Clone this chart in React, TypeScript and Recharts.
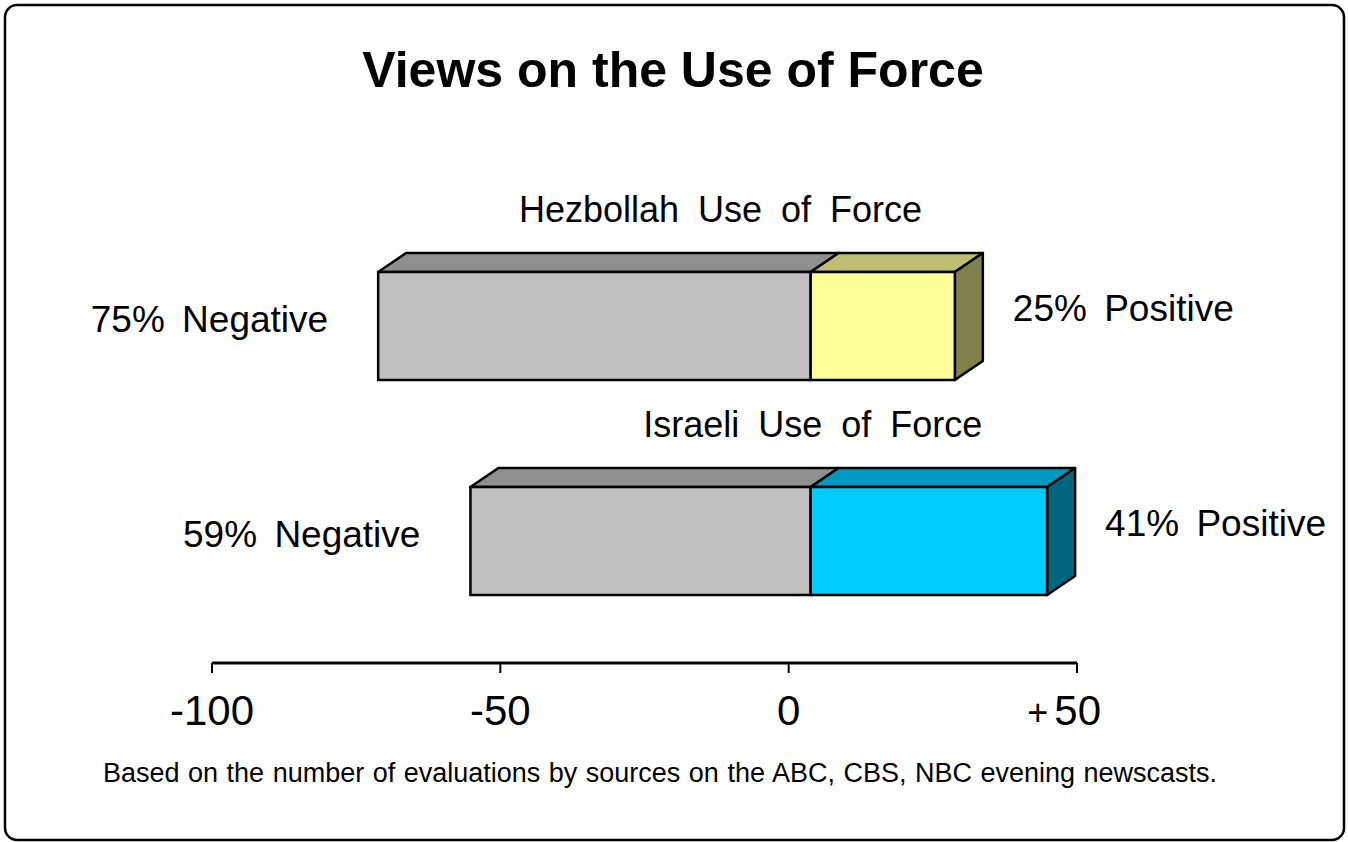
import React from 'react';
import { BarChart, Bar, XAxis, YAxis } from 'recharts';

const categories = ['Hezbollah Use of Force', 'Israeli Use of Force'];
const negativeShares = [-75, -59];
const positiveShares = [25, 41];
const axisTicks = [-100, -50, 0, 50];

const FONT = '"Liberation Sans", Arial, Helvetica, sans-serif';
const WIDTH = 1348;
const HEIGHT = 842;

// the old 3D chart draws its front faces a little right of the axis
const SHIFT = 22;
const DX = 28;
const DY = 19;
const EDGE = 2.5;

const NEG_FACES = { front: '#C0C0C0', top: '#8F8F8F' };
const POS_FACES = [
  { front: '#FFFF99', top: '#BFBF73', side: '#80804D' },
  { front: '#00CCFF', top: '#0099BF', side: '#006680' },
];

const data = categories.map((name, i) => ({
  name,
  neg: negativeShares[i],
  pos: positiveShares[i],
}));

const labelStyle = {
  fontFamily: FONT,
  fontSize: 37,
  fill: '#000',
  wordSpacing: 7,
};

const NegShape = (props: any) => {
  const { x, y, width, height, payload } = props;
  const w = Math.abs(width);
  const left = Math.min(x, x + width) + SHIFT;
  return (
    <g>
      <polygon
        points={`${left},${y} ${left + DX},${y - DY} ${left + w + DX},${y - DY} ${left + w},${y}`}
        fill={NEG_FACES.top}
        stroke="#000"
        strokeWidth={EDGE}
        strokeLinejoin="round"
      />
      <rect x={left} y={y} width={w} height={height} fill={NEG_FACES.front} stroke="#000" strokeWidth={EDGE} />
      <text x={left - 50} y={y + height / 2 + 6} textAnchor="end" style={labelStyle}>
        {`${Math.abs(payload.neg)}% Negative`}
      </text>
    </g>
  );
};

const PosShape = (props: any) => {
  const { x, y, width, height, payload, index } = props;
  const faces = POS_FACES[index % POS_FACES.length];
  const w = Math.abs(width);
  const left = Math.min(x, x + width) + SHIFT;
  const right = left + w;
  const perUnit = w / payload.pos;
  const negLeft = left - Math.abs(payload.neg) * perUnit;
  const titleX = (negLeft + right) / 2 + 54;
  return (
    <g>
      <polygon
        points={`${left},${y} ${left + DX},${y - DY} ${right + DX},${y - DY} ${right},${y}`}
        fill={faces.top}
        stroke="#000"
        strokeWidth={EDGE}
        strokeLinejoin="round"
      />
      <polygon
        points={`${right},${y} ${right + DX},${y - DY} ${right + DX},${y + height - DY} ${right},${y + height}`}
        fill={faces.side}
        stroke="#000"
        strokeWidth={EDGE}
        strokeLinejoin="round"
      />
      <rect x={left} y={y} width={w} height={height} fill={faces.front} stroke="#000" strokeWidth={EDGE} />
      <text x={right + 58} y={y + height / 2 - 5} textAnchor="start" style={labelStyle}>
        {`${payload.pos}% Positive`}
      </text>
      <text x={titleX} y={y - 50} textAnchor="middle" style={{ ...labelStyle, fontSize: 36, wordSpacing: 9 }}>
        {payload.name}
      </text>
    </g>
  );
};

const AxisTick = (props: any) => {
  const { x, y, payload } = props;
  const v = payload.value;
  if (v > 0) {
    return (
      <text x={x + 24} y={y + 52} textAnchor="end" fontFamily={FONT} fontSize={42} fill="#000">
        <tspan fontSize={36}>+</tspan>
        <tspan dx={6}>{`${v}`}</tspan>
      </text>
    );
  }
  return (
    <text x={x} y={y + 52} textAnchor="middle" fontFamily={FONT} fontSize={42} fill="#000">
      {`${v}`}
    </text>
  );
};

export default function App() {
  return (
    <div style={{ position: 'absolute', left: 0, top: 0, width: WIDTH, height: HEIGHT, background: '#fff' }}>
      <svg width={WIDTH} height={HEIGHT} style={{ position: 'absolute', left: 0, top: 0 }}>
        <rect x={5} y={5} width={1339} height={835} rx={12} ry={12} fill="#fff" stroke="#000" strokeWidth={2.5} />
        <text x={673} y={87} textAnchor="middle" fontFamily={FONT} fontSize={50} fontWeight="bold" fill="#000">
          Views on the Use of Force
        </text>
        <text x={103} y={782} fontFamily={FONT} fontSize={27} fill="#000" style={{ wordSpacing: 1 }}>
          Based on the number of evaluations by sources on the ABC, CBS, NBC evening newscasts.
        </text>
      </svg>
      <div style={{ position: 'absolute', left: 0, top: 0 }}>
        <BarChart
          width={WIDTH}
          height={HEIGHT}
          data={data}
          layout="vertical"
          stackOffset="sign"
          barSize={108}
          margin={{ top: 218, right: 271, bottom: 99, left: 212 }}
        >
          <XAxis
            type="number"
            domain={[-100, 50]}
            ticks={axisTicks}
            height={80}
            tickSize={10}
            tickMargin={0}
            tick={<AxisTick />}
            axisLine={{ stroke: '#000', strokeWidth: 3 }}
            tickLine={{ stroke: '#000', strokeWidth: 2 }}
          />
          <YAxis type="category" dataKey="name" hide padding={{ top: 0, bottom: 15 }} />
          <Bar dataKey="neg" stackId="force" shape={<NegShape />} isAnimationActive={false} />
          <Bar dataKey="pos" stackId="force" shape={<PosShape />} isAnimationActive={false} />
        </BarChart>
      </div>
    </div>
  );
}
